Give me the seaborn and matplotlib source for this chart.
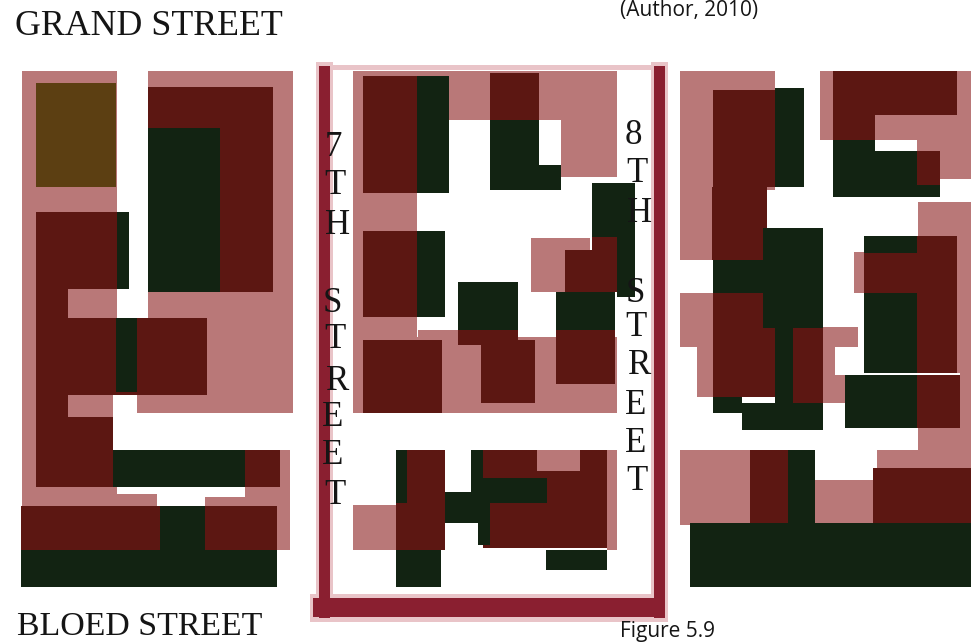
import numpy as np
import matplotlib
matplotlib.use("Agg")
import matplotlib.pyplot as plt
from matplotlib.colors import ListedColormap
import seaborn as sns

# land use blocks, (left, right, top, bottom) in image pixels
road_halo = [(316, 333, 62, 622), (651, 668, 62, 622), (310, 668, 594, 622), (333, 651, 65, 70)]
road = [(319, 330, 66, 618), (654, 665, 66, 618), (313, 665, 598, 617)]

pink_blocks = [
    (22, 117, 71, 212), (22, 36, 212, 505), (148, 293, 71, 320), (207, 293, 320, 413),
    (137, 293, 395, 413), (68, 117, 289, 318), (68, 113, 395, 417), (22, 157, 473, 506),
    (273, 290, 450, 550), (205, 290, 487, 506),
    (353, 449, 71, 193), (353, 417, 193, 345), (353, 362, 230, 345), (449, 561, 71, 120),
    (540, 617, 71, 120), (561, 617, 120, 177), (353, 617, 337, 413), (418, 458, 330, 413),
    (531, 590, 238, 292), (353, 396, 505, 550), (607, 617, 450, 550),
    (680, 775, 71, 190), (680, 767, 190, 260), (680, 713, 293, 347), (697, 713, 347, 397),
    (823, 858, 327, 347), (823, 845, 347, 403), (820, 971, 71, 140), (917, 971, 140, 151),
    (940, 971, 151, 179), (918, 971, 202, 236), (957, 971, 236, 467), (854, 864, 252, 293),
    (918, 971, 428, 467), (877, 971, 450, 468), (680, 750, 450, 525), (815, 873, 480, 523),
]
brown_blocks = [(36, 116, 83, 187)]
red_blocks = [
    (36, 117, 212, 289), (148, 273, 87, 292), (36, 68, 288, 475), (68, 207, 318, 395),
    (36, 113, 417, 487), (245, 280, 450, 487), (21, 160, 506, 550), (205, 277, 506, 550),
    (363, 417, 76, 193), (490, 539, 73, 120), (363, 417, 231, 317), (458, 518, 328, 345),
    (481, 535, 340, 403), (565, 617, 250, 292), (592, 617, 237, 250), (556, 615, 330, 384),
    (363, 442, 340, 413), (396, 445, 450, 550), (483, 607, 450, 548),
    (713, 775, 90, 187), (712, 767, 187, 260), (713, 775, 293, 397), (793, 823, 328, 403),
    (833, 957, 71, 115), (833, 875, 115, 140), (917, 940, 151, 185), (864, 957, 253, 293),
    (917, 957, 236, 293), (917, 957, 293, 373), (917, 960, 375, 428), (873, 971, 468, 523),
    (750, 788, 450, 523),
]
green_blocks = [
    (117, 129, 212, 289), (148, 220, 128, 292), (116, 137, 318, 392), (113, 245, 450, 487),
    (160, 205, 506, 550), (21, 277, 550, 587),
    (417, 449, 76, 193), (490, 539, 120, 190), (539, 561, 165, 190), (417, 445, 231, 317),
    (458, 518, 282, 330), (592, 635, 183, 237), (617, 635, 237, 297), (556, 615, 292, 330),
    (396, 407, 450, 503), (396, 441, 550, 587), (445, 490, 492, 523), (471, 483, 450, 492),
    (483, 547, 478, 503), (478, 490, 503, 545), (546, 607, 550, 570),
    (775, 804, 88, 187), (713, 763, 260, 293), (763, 823, 228, 328), (775, 793, 328, 403),
    (713, 742, 397, 413), (742, 823, 403, 430),
    (833, 875, 140, 197), (833, 917, 151, 197), (917, 940, 185, 197), (864, 917, 236, 253),
    (864, 917, 293, 373), (845, 917, 375, 428), (788, 815, 450, 550), (690, 971, 523, 587),
]
pale_blocks = [(537, 580, 450, 471), (875, 971, 115, 140)]
white_blocks = [(835, 863, 347, 375), (864, 960, 373, 375), (117, 245, 487, 494), (157, 205, 494, 506),
                (157, 245, 494, 497)]

layers = [road_halo, road, pink_blocks, brown_blocks, red_blocks, green_blocks, pale_blocks, white_blocks]
layer_codes = [1, 2, 3, 4, 5, 6, 3, 0]
layer_colors = ["#ffffff", "#e9c4c8", "#8a1f30", "#b97878", "#5c3f12", "#5c1712", "#122312"]

street_7th = ["7", "T", "H", "S", "T", "R", "E", "E", "T"]
street_7th_x = [333, 335, 338, 332, 335, 338, 333, 333, 335]
street_7th_y = [148, 186, 225, 303, 340, 381, 418, 455, 495]
street_8th = ["8", "T", "H", "S", "T", "R", "E", "E", "T"]
street_8th_x = [633, 637, 640, 635, 636, 640, 636, 636, 637]
street_8th_y = [135, 173, 213, 293, 328, 366, 406, 443, 481]

sns.set_theme(style="white")
fig = plt.figure(figsize=(9.71, 6.42), dpi=100)
ax = fig.add_axes([0, 0, 1, 1])

# paint the blocks into a category grid, later layers on top
grid = np.zeros((642, 971), dtype=int)
for blocks, code in zip(layers, layer_codes):
    for x0, x1, y0, y1 in blocks:
        grid[y0:y1, x0:x1] = code

sns.heatmap(grid, ax=ax, cmap=ListedColormap(layer_colors), vmin=0, vmax=6,
            cbar=False, xticklabels=False, yticklabels=False)

serif = "Liberation Serif"
sans = "Open Sans"
ax.text(15, 35, "GRAND STREET", family=serif, fontsize=25.8, color="#151515", va="baseline")
ax.text(17, 635, "BLOED STREET", family=serif, fontsize=24.4, color="#151515", va="baseline")
for letters, xs, ys in [(street_7th, street_7th_x, street_7th_y), (street_8th, street_8th_x, street_8th_y)]:
    for ch, x, y in zip(letters, xs, ys):
        ax.text(x, y, ch, family=serif, fontsize=25, color="#151515", ha="center", va="center")
ax.text(620, 16, "(Author, 2010)", family=sans, fontsize=15, color="#151515", va="baseline")
ax.text(620, 637, "Figure 5.9", family=sans, fontsize=15, color="#151515", va="baseline")

fig.savefig("out.png", dpi=100)
